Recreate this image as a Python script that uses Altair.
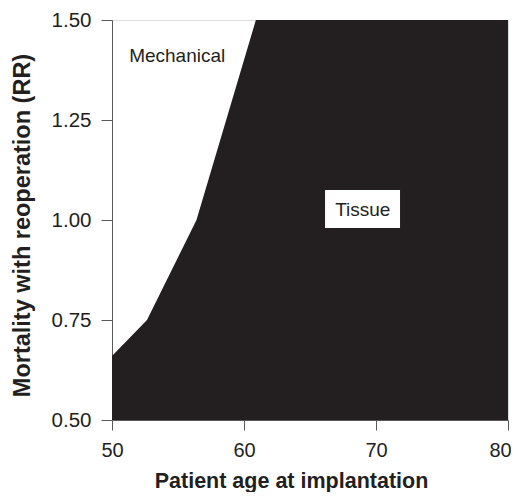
import altair as alt
import pandas as pd

# Boundary between the two preferred-valve regions
age = [50, 52.65, 56.4, 60.9, 80]
rr_boundary = [0.66, 0.75, 1.0, 1.5, 1.5]

# Region labels
label_text = ["Mechanical", "Tissue"]
label_x = [51.3, 69.0]
label_y = [1.396, 1.011]
label_align = ["left", "center"]

# White box behind the "Tissue" label
box_x = [66.14]
box_x2 = [71.82]
box_y = [0.98]
box_y2 = [1.075]

x_ticks = [50, 60, 70, 80]
y_ticks = [0.5, 0.75, 1.0, 1.25, 1.5]

dark = "#231f20"
gray = "#58595b"
font = "Liberation Sans"

area_df = pd.DataFrame({"age": age, "rr": rr_boundary})
box_df = pd.DataFrame({"x": box_x, "x2": box_x2, "y": box_y, "y2": box_y2})
lab_df = pd.DataFrame({"t": label_text, "x": label_x, "y": label_y, "a": label_align})

xscale = alt.Scale(domain=[50, 80], nice=False, zero=False)
yscale = alt.Scale(domain=[0.5, 1.5], nice=False, zero=False)

xaxis = alt.Axis(
    values=x_ticks, format="d", title="Patient age at implantation",
    titleFont=font, titleFontSize=21.5, titleFontWeight="bold", titleColor=dark,
    titleX=179, titleY=67, titleAlign="center", titleBaseline="alphabetic",
    labelFont=font, labelFontSize=20, labelColor=dark, labelPadding=10,
    labelOffset={"condition": {"test": "datum.value == 80", "value": -8}, "value": 0},
    tickSize=10, tickColor=gray, domainColor=gray, grid=False, labelFlush=False,
)
yaxis = alt.Axis(
    values=y_ticks, format=".2f", title="Mortality with reoperation (RR)",
    titleFont=font, titleFontSize=23.5, titleFontWeight="bold", titleColor=dark,
    titleX=-83, titleY=205, titleAngle=-90, titleAlign="center", titleBaseline="alphabetic",
    labelFont=font, labelFontSize=20.5, labelColor=dark, labelPadding=10,
    tickSize=11, tickColor=gray, domainColor=gray, grid=False, labelFlush=False,
)

area = alt.Chart(area_df).mark_area(color=dark, opacity=1, clip=True).encode(
    x=alt.X("age:Q", scale=xscale, axis=xaxis),
    y=alt.Y("rr:Q", scale=yscale, axis=yaxis),
    y2=alt.datum(0.5),
)

box = alt.Chart(box_df).mark_rect(color="white", opacity=1).encode(
    x=alt.X("x:Q", scale=xscale), x2="x2:Q",
    y=alt.Y("y:Q", scale=yscale), y2="y2:Q",
)

labels_left = alt.Chart(lab_df[lab_df.a == "left"]).mark_text(
    font=font, fontSize=19, color=dark, align="left", baseline="alphabetic"
).encode(x=alt.X("x:Q", scale=xscale), y=alt.Y("y:Q", scale=yscale), text="t:N")

labels_center = alt.Chart(lab_df[lab_df.a == "center"]).mark_text(
    font=font, fontSize=19, color=dark, align="center", baseline="alphabetic"
).encode(x=alt.X("x:Q", scale=xscale), y=alt.Y("y:Q", scale=yscale), text="t:N")

chart = alt.layer(area, box, labels_left, labels_center).properties(
    width=396, height=400,
    autosize=alt.AutoSizeParams(type="none"),
    padding={"left": 104, "top": 12, "right": 3, "bottom": 72},
).configure_view(stroke=gray, strokeWidth=1).configure(background="white")

chart.save("out.html", embed_options={"renderer": "svg", "actions": False})
